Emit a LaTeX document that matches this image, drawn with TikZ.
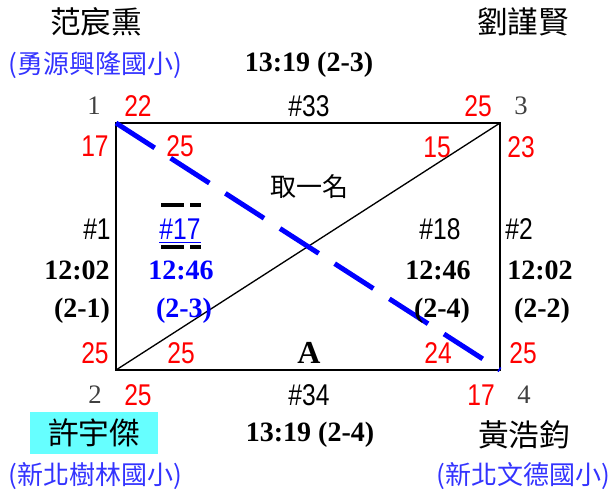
\documentclass[tikz,border=0pt]{standalone}
\usepackage{fontspec}
\setmainfont{Liberation Serif}
\newfontfamily\narrow[FakeStretch=0.82]{Liberation Sans}
\newfontfamily\cjk{Noto Sans CJK TC}
\definecolor{schoolblue}{RGB}{51,51,255}
\definecolor{seedgray}{RGB}{64,64,64}
\definecolor{boxcyan}{RGB}{102,255,255}
\begin{document}
\begin{tikzpicture}[x=0.75pt, y=-0.75pt, every node/.style={inner sep=0pt},
	player/.style={font=\cjk\fontsize{23}{23}\selectfont},
	school/.style={font=\cjk\fontsize{19.5}{19.5}\selectfont, text=schoolblue},
	score/.style={font=\narrow\fontsize{22.5}{22.5}\selectfont, text=red},
	seedno/.style={font=\fontsize{20}{20}\selectfont, text=seedgray},
	gameno/.style={font=\narrow\fontsize{22.5}{22.5}\selectfont},
	clock/.style={font=\bfseries\fontsize{21}{21}\selectfont}]
	\useasboundingbox (0,0) rectangle (609,494);
	% corners of the group
	\coordinate (c1) at (116,123);
	\coordinate (c2) at (116,370);
	\coordinate (c3) at (500,123);
	\coordinate (c4) at (500,370);
	\draw[line width=2.2pt] (c1) rectangle (c4);
	\draw[line width=1pt] (c2) -- (c3);
	\draw[blue, line width=3.7pt, dash pattern=on 34.5pt off 14.25pt] (c1) -- (c4);
	% players
	\node[player] (p1) at (96,22) {范宸熏};
	\node[player] (p3) at (523,22) {劉謹賢};
	\node[school] (s1) at (95,65) {(勇源興隆國小)};
	\node[clock] (t13) at (309,65) {13:19 (2-3)};
	\node[seedno] (n1) at (94,106) {1};
	\node[score] (a22) at (138,106) {22};
	\node[gameno] (g33) at (309,106) {\#33};
	\node[score] (a25) at (478,106) {25};
	\node[seedno] (n3) at (521,106) {3};
	\node[score] (b17) at (95,146) {17};
	\node[score] (b25) at (180,146) {25};
	\node[score] (b15) at (437,147) {15};
	\node[score] (b23) at (521,147) {23};
	\node[font=\cjk\fontsize{19.5}{19.5}\selectfont] (rank) at (309,187) {取一名};
	% middle games
	\node[gameno] (g1) at (97,229) {\#1};
	\node[gameno, text=blue] (g17) at (180,231) {\underline{\#17}};
	\draw[line width=3pt, dash pattern=on 17.25pt off 4.5pt] (161,205) -- (201,205);
	\draw[line width=3pt, dash pattern=on 17.25pt off 4.5pt] (161,247) -- (201,247);
	\node[gameno] (g18) at (440,229) {\#18};
	\node[gameno] (g2) at (519,229) {\#2};
	\node[clock] (t1) at (77,270) {12:02};
	\node[clock, text=blue] (t17) at (181,270) {12:46};
	\node[clock] (t18) at (438,270) {12:46};
	\node[clock] (t2) at (540,270) {12:02};
	\node[clock] (r1) at (82,311) {(2-1)};
	\node[clock, text=blue] (r17) at (184,311) {(2-3)};
	\node[clock] (r18) at (442,311) {(2-4)};
	\node[clock] (r2) at (542,311) {(2-2)};
	\node[score] (c25a) at (95,353) {25};
	\node[score] (c25b) at (181,353) {25};
	\node[font=\bfseries\fontsize{24}{24}\selectfont] (grp) at (309,353) {A};
	\node[score] (c24) at (438,353) {24};
	\node[score] (c25c) at (523,353) {25};
	\node[seedno] (n2) at (95,395) {2};
	\node[score] (d25) at (138,395) {25};
	\node[gameno] (g34) at (309,395) {\#34};
	\node[score] (d17) at (481,395) {17};
	\node[seedno] (n4) at (524,395) {4};
	\node[player, fill=boxcyan, minimum width=96pt, minimum height=31pt] (p2) at (94,433) {許宇傑};
	\node[clock] (t34) at (310,435) {13:19 (2-4)};
	\node[player] (p4) at (524,435) {黃浩鈞};
	\node[school] (s2) at (95,476) {(新北樹林國小)};
	\node[school] (s4) at (523,476) {(新北文德國小)};
\end{tikzpicture}
\end{document}
